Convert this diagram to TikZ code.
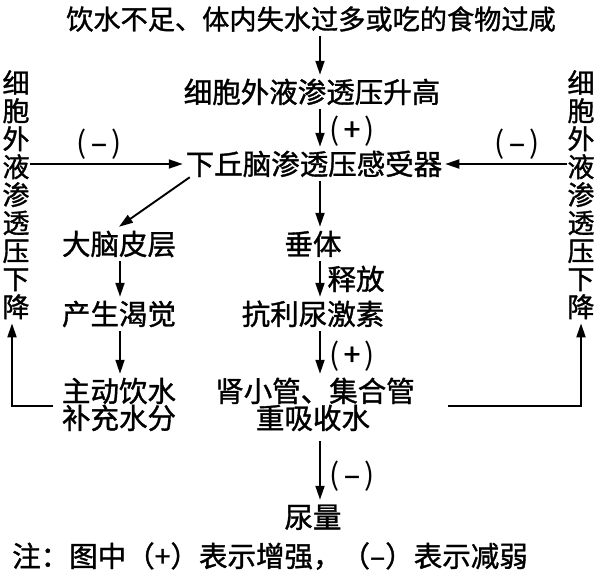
\documentclass[tikz,border=0pt]{standalone}
\usepackage{fontspec}
\newfontfamily\cjk[FakeBold=1.2]{Noto Sans CJK SC}
\newfontfamily\cjkthin{Noto Sans CJK SC}
\usetikzlibrary{arrows.meta,calc}
\begin{document}
\begin{tikzpicture}[x=1pt,y=1pt,
  lbl/.style={font=\cjk\fontsize{28.5}{30}\selectfont, inner sep=0pt, outer sep=3pt, text height=25pt, text depth=3.5pt},
  ttl/.style={lbl, font=\cjk\fontsize{27.2}{30}\selectfont, text height=24pt, text depth=3.3pt},
  vtxt/.style={font=\cjk\fontsize{27}{28}\selectfont, inner sep=0pt, align=center},
  sgn/.style={font=\cjkthin\fontsize{30}{30}\selectfont, inner sep=0pt},
  arr/.style={line width=1.9pt, -{Triangle[length=14pt,width=9pt]}},
  ln/.style={line width=1.9pt}]
\useasboundingbox (0,0) rectangle (596,-571);
\coordinate (cx) at (320,0);
\coordinate (lx) at (120,0);
% main column
\node[ttl] (title) at (311,-19) {饮水不足、体内失水过多或吃的食物过咸};
\node[lbl] (l1) at (312,-92) {细胞外液渗透压升高};
\node[lbl] (l2) at (314,-164) {下丘脑渗透压感受器};
\node[lbl] (chui) at (313,-244) {垂体};
\node[lbl] (adh) at (313,-314) {抗利尿激素};
\node[lbl] (kid1) at (315,-391) {肾小管、集合管};
\node[lbl] (kid2) at (313,-418) {重吸收水};
\node[lbl] (urine) at (313,-517) {尿量};
% left column
\node[lbl] (brain) at (119,-244) {大脑皮层};
\node[lbl] (thirst) at (119,-314) {产生渴觉};
\node[lbl] (drink1) at (119,-391) {主动饮水};
\node[lbl] (drink2) at (119,-418) {补充水分};
% side vertical texts
\node[vtxt, anchor=north] (lv) at (16,-70) {细\\胞\\外\\液\\渗\\透\\压\\下\\降};
\node[vtxt, anchor=north] (rv) at (581,-70) {细\\胞\\外\\液\\渗\\透\\压\\下\\降};
% labels
\node[sgn] (s1) at (352,-131) {(\hspace{4pt}{\cjk+}\hspace{4pt})};
\node[sgn] (s2) at (99,-144) {(\hspace{4pt}{\cjk–}\hspace{4pt})};
\node[sgn] (s3) at (517,-144) {(\hspace{4pt}{\cjk–}\hspace{4pt})};
\node[lbl] (s4) at (356,-279) {释放};
\node[sgn] (s5) at (352,-356) {(\hspace{4pt}{\cjk+}\hspace{4pt})};
\node[sgn] (s6) at (352,-476) {(\hspace{4pt}{\cjk–}\hspace{4pt})};
\node[lbl] (note) at (270,-556) {注：图中（+）表示增强，（–）表示减弱};
% connectors
\coordinate (kidmid) at ($(kid1.center)!0.55!(kid2.center)$);
\coordinate (drinkmid) at ($(drink1.center)!0.55!(drink2.center)$);
\draw[arr] (title.south -| cx) -- (l1.north -| cx);
\draw[arr] (l1.south -| cx) -- (l2.north -| cx);
\draw[arr] (l2.south -| cx) -- (chui.north -| cx);
\draw[arr] (chui.south -| cx) -- (adh.north -| cx);
\draw[arr] (adh.south -| cx) -- (kid1.north -| cx);
\draw[arr, shorten <=6pt] (kid2.south -| cx) -- (urine.north -| cx);
\draw[arr] ([shift={(7pt,4pt)}]l2.south west) -- (brain.north);
\draw[arr] (brain.south -| lx) -- (thirst.north -| lx);
\draw[arr] (thirst.south -| lx) -- (drink1.north -| lx);
\draw[arr] (lv.east |- l2.west) -- (l2.west);
\draw[arr] (rv.west |- l2.east) -- (l2.east);
\draw[arr, shorten <=6pt, shorten >=4pt] (drink1.west |- drinkmid) -| ([xshift=-4pt]lv.south);
\draw[arr, shorten <=30pt, shorten >=4pt] (kid1.east |- kidmid) -| (rv.south);
\end{tikzpicture}
\end{document}
